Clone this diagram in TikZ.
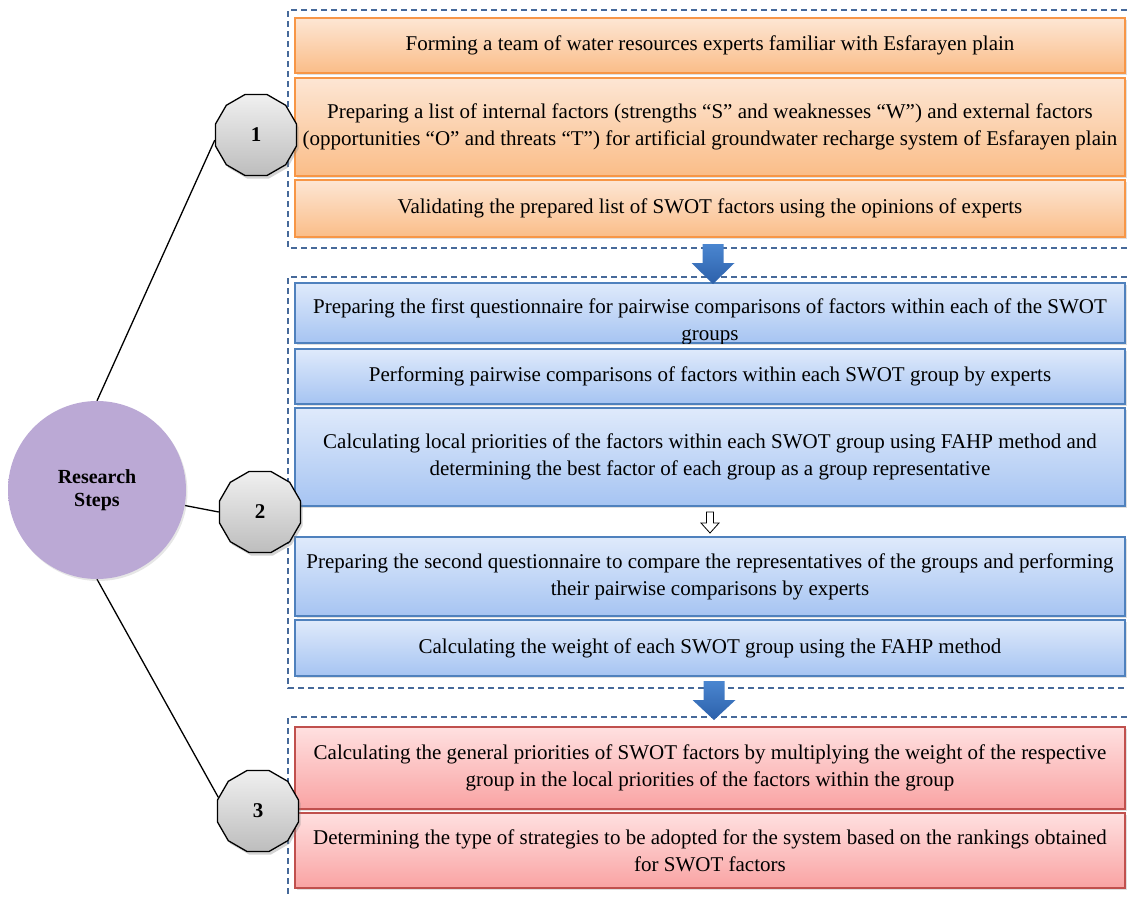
\documentclass[tikz,border=0pt]{standalone}
\usepackage{fontspec}
\setmainfont{Liberation Serif}
\usetikzlibrary{shapes.geometric,shadows,backgrounds}
\definecolor{grpc}{HTML}{46699A}
\definecolor{otop}{HTML}{FDE6D4}
\definecolor{obot}{HTML}{FABD88}
\definecolor{obord}{HTML}{F79646}
\definecolor{btop}{HTML}{DFEAFB}
\definecolor{bbot}{HTML}{A6C4F2}
\definecolor{bbord}{HTML}{4F81BD}
\definecolor{rtop}{HTML}{FFE0E0}
\definecolor{rbot}{HTML}{F9A3A3}
\definecolor{rbord}{HTML}{C0504D}
\definecolor{gtop}{HTML}{F0F0F0}
\definecolor{gbot}{HTML}{BDBDBD}
\definecolor{pcin}{HTML}{BBA9D5}
\definecolor{pcout}{HTML}{A591C6}
\definecolor{aone}{HTML}{4A86D0}
\definecolor{atwo}{HTML}{2C60AA}
\pgfdeclareradialshading{purpleball}{\pgfpoint{0bp}{0bp}}{color(0bp)=(pcin); color(40bp)=(pcin); color(50bp)=(pcout)}
\begin{document}
\begin{tikzpicture}[x=1pt,y=-1pt,
  grp/.style={draw=grpc, line width=1.2pt, dash pattern=on 6pt off 4pt},
  sbox/.style={rectangle, line width=1.3pt, minimum width=830pt, inner sep=0pt, align=center,
    font=\fontsize{21}{27}\selectfont,
    drop shadow={opacity=0.25, shadow xshift=1.5pt, shadow yshift=-2pt}},
  obox/.style={sbox, draw=obord, top color=otop, bottom color=obot},
  bbox/.style={sbox, draw=bbord, top color=btop, bottom color=bbot},
  rbox/.style={sbox, draw=rbord, top color=rtop, bottom color=rbot},
  numpoly/.style={regular polygon, regular polygon sides=12, minimum size=84pt, inner sep=0pt,
    draw=black, line width=1.3pt, top color=gtop, bottom color=gbot,
    font=\bfseries\fontsize{21}{24}\selectfont,
    drop shadow={opacity=0.35, shadow xshift=2pt, shadow yshift=-3pt}},
  rsnode/.style={circle, minimum size=178pt, inner sep=0pt, shading=purpleball, align=center,
    font=\bfseries\fontsize{20}{23}\selectfont,
    drop shadow={opacity=0.2, shadow xshift=1.5pt, shadow yshift=-2pt}},
  conn/.style={draw=black, line width=1.3pt},
  bigarrow/.style={top color=aone, bottom color=atwo, draw=none},
  smallarrow/.style={fill=white, draw=black, line width=0.8pt}
]
\useasboundingbox (0,0) rectangle (1127,897);

% dashed groups
\draw[grp] (1127,10) -- (288,10) -- (288,248) -- (1127,248);
\draw[grp] (1127,277) -- (288,277) -- (288,688) -- (1127,688);
\draw[grp] (1127,717) -- (288,717) -- (288,897);

% group 1
\node[obox, minimum height=55pt] (o1) at (710,45.5)
  {Forming a team of water resources experts familiar with Esfarayen plain};
\node[obox, minimum height=98pt] (o2) at (710,127)
  {Preparing a list of internal factors (strengths “S” and weaknesses “W”) and external factors\\
   (opportunities “O” and threats “T”) for artificial groundwater recharge system of Esfarayen plain};
\node[obox, minimum height=57pt] (o3) at (710,208.5)
  {Validating the prepared list of SWOT factors using the opinions of experts};

% group 2
\node[bbox, minimum height=60pt] (b1) at (710,313) {};
\begin{scope}
  \clip (b1.south west) rectangle (b1.north east);
  \node[align=center, inner sep=0pt, font=\fontsize{21}{27}\selectfont] (b1t) at (710,322)
    {Preparing the first questionnaire for pairwise comparisons of factors within each of the SWOT\\ groups};
\end{scope}
\node[bbox, minimum height=55pt] (b2) at (710,376.5)
  {Performing pairwise comparisons of factors within each SWOT group by experts};
\node[bbox, minimum height=98pt] (b3) at (710,457)
  {Calculating local priorities of the factors within each SWOT group using FAHP method and\\
   determining the best factor of each group as a group representative};
\node[bbox, minimum height=79pt] (b4) at (710,576.5)
  {Preparing the second questionnaire to compare the representatives of the groups and performing\\
   their pairwise comparisons by experts};
\node[bbox, minimum height=56pt] (b5) at (710,648)
  {Calculating the weight of each SWOT group using the FAHP method};

% group 3
\node[rbox, minimum height=82pt] (r1) at (710,768)
  {Calculating the general priorities of SWOT factors by multiplying the weight of the respective\\
   group in the local priorities of the factors within the group};
\node[rbox, minimum height=75pt] (r2) at (710,850.5)
  {Determining the type of strategies to be adopted for the system based on the rankings obtained\\
   for SWOT factors};

% arrows
\shade[bigarrow] (702.5,244) -- (723.5,244) -- (723.5,263) -- (734.5,263) -- (713,284)
  -- (691.5,263) -- (702.5,263) -- cycle;
\shade[bigarrow] (703.5,681) -- (724.5,681) -- (724.5,700) -- (735.5,700) -- (714,720)
  -- (692.5,700) -- (703.5,700) -- cycle;
\draw[smallarrow] (706.5,512) -- (713.5,512) -- (713.5,523) -- (719,523) -- (710,533)
  -- (701,523) -- (706.5,523) -- cycle;

% research steps and numbers
\node[rsnode] (rs) at (97,490) {Research\\Steps};
\node[numpoly] (n1) at (256,135) {1};
\node[numpoly] (n2) at (260,512) {2};
\node[numpoly] (n3) at (258,811) {3};

\begin{scope}[on background layer]
  \draw[conn] (rs.north) -- (n1.187);
  \draw[conn] (rs.-10) -- (n2.west);
  \draw[conn] (rs.south) -- (n3.161);
\end{scope}
\end{tikzpicture}
\end{document}
